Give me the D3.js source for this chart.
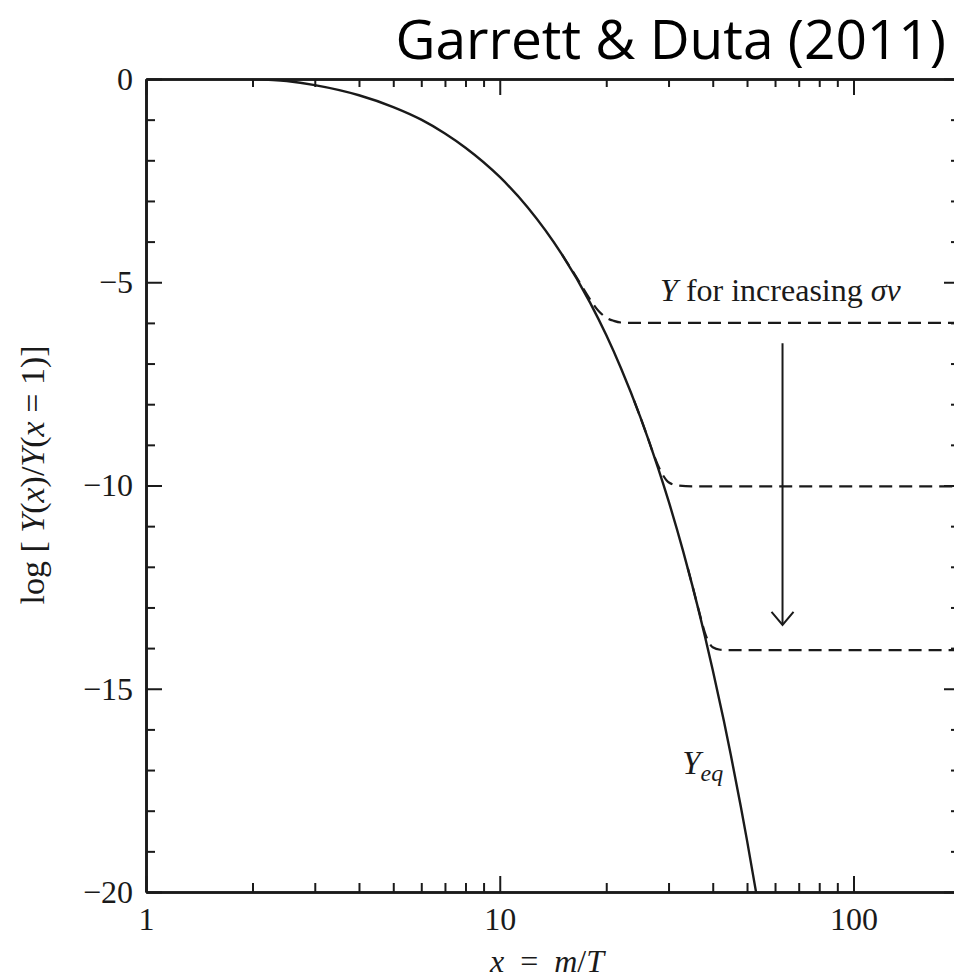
<!DOCTYPE html>
<html>
<head>
<meta charset="utf-8">
<script src="https://cdn.jsdelivr.net/npm/d3@7"></script>
<style>
  html, body { margin: 0; padding: 0; background: #fff; }
  svg { display: block; }
  .serif { font-family: "Liberation Serif", "DejaVu Serif", serif; fill: #1a1a1a; }
</style>
</head>
<body>
<svg id="chart" width="954" height="980"></svg>
<script>
// Equilibrium abundance, log10 of Y(x)/Y(x=1)
const eqX = [2, 2.5, 3, 4, 5, 6, 7, 8, 10, 12, 15, 18, 20, 22, 25, 28, 30, 33, 35, 38, 40, 43, 45, 48, 50, 53, 54];
const eqY = [0, -0.05, -0.15, -0.40, -0.69, -1.0, -1.34, -1.69, -2.41, -3.16, -4.32, -5.50, -6.30, -7.11, -8.33, -9.56, -10.38, -11.62, -12.45, -13.70, -14.54, -15.79, -16.63, -17.89, -18.73, -19.99, -20.42];

// Frozen-out abundances for three increasing cross sections
const frz1X = [15, 16, 17, 18, 19, 20, 21, 22, 24, 200];
const frz1Y = [-4.32, -4.70, -5.07, -5.42, -5.70, -5.87, -5.95, -5.99, -6.0, -6.0];
const frz2X = [24, 25, 26, 27, 28, 29, 30, 32, 35, 200];
const frz2Y = [-7.92, -8.33, -8.74, -9.15, -9.50, -9.76, -9.92, -10.0, -10.02, -10.02];
const frz3X = [34, 35, 36, 37, 38, 39, 40, 42, 45, 200];
const frz3Y = [-12.03, -12.45, -12.86, -13.26, -13.62, -13.86, -13.98, -14.04, -14.05, -14.05];

// Axis ticks
const xMajor = [1, 10, 100];
const xMinor = [2, 3, 4, 5, 6, 7, 8, 9, 20, 30, 40, 50, 60, 70, 80, 90];
const xLabels = ["1", "10", "100"];
const yMajor = [0, -5, -10, -15, -20];
const yMinor = [-1, -2, -3, -4, -6, -7, -8, -9, -11, -12, -13, -14, -16, -17, -18, -19];
const yLabels = ["0", "\u22125", "\u221210", "\u221215", "\u221220"];

// Arrow pointing toward larger cross section
const arrowX = 63;
const arrowFrom = -6.5;
const arrowTo = -13.43;

const svg = d3.select("#chart");
const mLeft = 146, mRight = 960, mTop = 79, mBottom = 892;

const x = d3.scaleLog().domain([1, 200]).range([mLeft, mRight]);
const y = d3.scaleLinear().domain([-20, 0]).range([mBottom, mTop]);

svg.append("rect").attr("width", 954).attr("height", 980).attr("fill", "#fff");

svg.append("defs").append("clipPath").attr("id", "plotClip")
  .append("rect").attr("x", mLeft).attr("y", mTop).attr("width", mRight - mLeft).attr("height", mBottom - mTop);

const ink = "#1a1a1a";

function styleAxis(g, label) {
  g.select(".domain").attr("stroke", ink).attr("stroke-width", 2.6);
  g.selectAll(".tick line").attr("stroke", ink).attr("stroke-width", 2);
  if (label) {
    g.selectAll(".tick text").attr("class", "serif").attr("font-size", 32).attr("fill", ink);
  } else {
    g.selectAll(".tick text").remove();
  }
}

// Minor ticks
svg.append("g").attr("transform", `translate(${mLeft},0)`)
  .call(d3.axisLeft(y).tickValues(yMinor).tickSizeInner(-9).tickSizeOuter(0).tickFormat(""))
  .call(g => styleAxis(g, false));
svg.append("g").attr("transform", `translate(${mRight},0)`)
  .call(d3.axisRight(y).tickValues(yMinor).tickSizeInner(-9).tickSizeOuter(0).tickFormat(""))
  .call(g => styleAxis(g, false));
svg.append("g").attr("transform", `translate(0,${mTop})`)
  .call(d3.axisTop(x).tickValues(xMinor).tickSizeInner(-8).tickSizeOuter(0).tickFormat(""))
  .call(g => styleAxis(g, false));
svg.append("g").attr("transform", `translate(0,${mBottom})`)
  .call(d3.axisBottom(x).tickValues(xMinor).tickSizeInner(-9).tickSizeOuter(0).tickFormat(""))
  .call(g => styleAxis(g, false));

// Major ticks with labels
svg.append("g").attr("transform", `translate(${mLeft},0)`)
  .call(d3.axisLeft(y).tickValues(yMajor).tickSizeInner(-16).tickSizeOuter(0).tickPadding(13)
    .tickFormat((d, i) => yLabels[i]))
  .call(g => styleAxis(g, true));
svg.append("g").attr("transform", `translate(${mRight},0)`)
  .call(d3.axisRight(y).tickValues(yMajor).tickSizeInner(-16).tickSizeOuter(0).tickFormat(""))
  .call(g => styleAxis(g, false));
svg.append("g").attr("transform", `translate(0,${mTop})`)
  .call(d3.axisTop(x).tickValues(xMajor).tickSizeInner(-16).tickSizeOuter(0).tickFormat(""))
  .call(g => styleAxis(g, false));
svg.append("g").attr("transform", `translate(0,${mBottom})`)
  .call(d3.axisBottom(x).tickValues(xMajor).tickSizeInner(-16).tickSizeOuter(0).tickPadding(15)
    .tickFormat((d, i) => xLabels[i]))
  .call(g => styleAxis(g, true));

// Curves
const line = d3.line().x(d => x(d[0])).y(d => y(d[1])).curve(d3.curveMonotoneX);
const plot = svg.append("g").attr("clip-path", "url(#plotClip)");

[[frz1X, frz1Y], [frz2X, frz2Y], [frz3X, frz3Y]].forEach(([xs, ys]) => {
  plot.append("path")
    .datum(xs.map((v, i) => [v, ys[i]]))
    .attr("d", line)
    .attr("fill", "none")
    .attr("stroke", ink)
    .attr("stroke-width", 2.2)
    .attr("stroke-dasharray", "13 7");
});

plot.append("path")
  .datum(eqX.map((v, i) => [v, eqY[i]]))
  .attr("d", line)
  .attr("fill", "none")
  .attr("stroke", ink)
  .attr("stroke-width", 2.4);

// Arrow
const ax = x(arrowX), ay0 = y(arrowFrom), ay1 = y(arrowTo);
svg.append("line").attr("x1", ax).attr("x2", ax).attr("y1", ay0).attr("y2", ay1)
  .attr("stroke", ink).attr("stroke-width", 2);
svg.append("path")
  .attr("d", `M${ax - 11},${ay1 - 13} L${ax},${ay1} L${ax + 11},${ay1 - 13}`)
  .attr("fill", "none").attr("stroke", ink).attr("stroke-width", 2);

// Annotations
const ann = svg.append("text").attr("class", "serif").attr("font-size", 32)
  .attr("x", x(28.4)).attr("y", y(-5.46));
ann.append("tspan").attr("font-style", "italic").text("Y");
ann.append("tspan").text(" for increasing ");
ann.append("tspan").attr("font-style", "italic").text("\u03c3\u03bd");

const yeq = svg.append("text").attr("class", "serif").attr("font-size", 33)
  .attr("x", x(32.8)).attr("y", y(-17.1));
yeq.append("tspan").attr("font-style", "italic").text("Y");
yeq.append("tspan").attr("font-style", "italic").attr("font-size", 24).attr("dy", 7).text("eq");

// Axis titles
const xl = svg.append("text").attr("class", "serif").attr("font-size", 32)
  .attr("x", 490).attr("y", 972);
xl.append("tspan").attr("font-style", "italic").text("x");
xl.append("tspan").text("\u2002=\u2002");
xl.append("tspan").attr("font-style", "italic").text("m");
xl.append("tspan").text("/");
xl.append("tspan").attr("font-style", "italic").text("T");

const yl = svg.append("text").attr("class", "serif").attr("font-size", 34)
  .attr("text-anchor", "middle")
  .attr("transform", "translate(44,475) rotate(-90)");
yl.append("tspan").text("log [ ");
yl.append("tspan").attr("font-style", "italic").text("Y");
yl.append("tspan").text("(");
yl.append("tspan").attr("font-style", "italic").text("x");
yl.append("tspan").text(")/");
yl.append("tspan").attr("font-style", "italic").text("Y");
yl.append("tspan").text("(");
yl.append("tspan").attr("font-style", "italic").text("x");
yl.append("tspan").text(" = 1)]");

// Title
svg.append("text")
  .attr("x", 946).attr("y", 59)
  .attr("text-anchor", "end")
  .attr("font-family", "'Open Sans', 'DejaVu Sans', sans-serif")
  .attr("font-size", 55)
  .attr("fill", "#000")
  .text("Garrett & Duta (2011)");
</script>
</body>
</html>
